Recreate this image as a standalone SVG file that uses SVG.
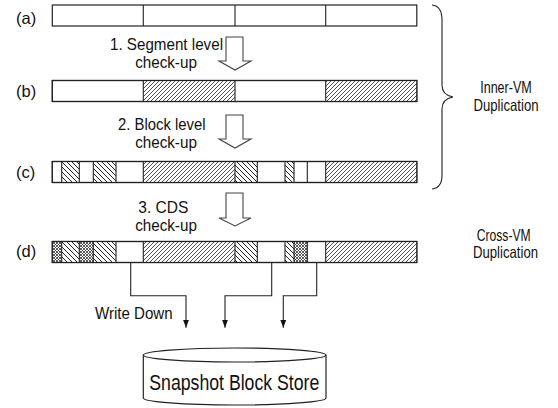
<svg xmlns="http://www.w3.org/2000/svg" width="558" height="408" viewBox="0 0 558 408">
<style>
  .t{font-family:"Liberation Sans Narrow","Liberation Sans",Arial,sans-serif;font-size:16.5px;fill:#111}
  .m{text-anchor:middle}
  .bar{fill:#fff;stroke:#222;stroke-width:1.2}
  .seg{stroke:#222;stroke-width:1.1}
  .blk{fill:#fff;stroke:#444;stroke-width:1.1}
  .ln{fill:none;stroke:#222;stroke-width:1.1}
</style>
<defs>
  <pattern id="fwd" patternUnits="userSpaceOnUse" width="4" height="4">
    <rect width="4" height="4" fill="#fff"/>
    <path d="M-1,1 L1,-1 M0,4 L4,0 M3,5 L5,3" stroke="#222" stroke-width="0.8"/>
  </pattern>
  <pattern id="bck" patternUnits="userSpaceOnUse" width="5" height="5">
    <rect width="5" height="5" fill="#fff"/>
    <path d="M-1,4 L1,6 M0,0 L5,5 M4,-1 L6,1" stroke="#222" stroke-width="1"/>
  </pattern>
  <pattern id="crs" patternUnits="userSpaceOnUse" width="3" height="3">
    <rect width="3" height="3" fill="#fff"/>
    <path d="M0,0 L3,3 M0,3 L3,0" stroke="#333" stroke-width="0.8"/>
  </pattern>
  <marker id="ah" markerUnits="userSpaceOnUse" markerWidth="8" markerHeight="6" refX="8" refY="3" orient="auto">
    <path d="M0,0 L8,3 L0,6 z" fill="#111"/>
  </marker>
</defs>

<g id="label-a"><text class="t" x="16" y="24">(a)</text></g>
<g id="label-b"><text class="t" x="16" y="97">(b)</text></g>
<g id="label-c"><text class="t" x="16" y="178">(c)</text></g>
<g id="label-d"><text class="t" x="16" y="257">(d)</text></g>

<g id="bar-a">
  <rect class="bar" x="52.3" y="5" width="364.5" height="21"/>
  <path class="seg" d="M143.3,5 V26 M235,5 V26 M325.7,5 V26"/>
</g>

<g id="bar-b">
  <rect class="bar" x="52.3" y="80.5" width="364.5" height="21"/>
  <rect x="143.3" y="80.5" width="91.7" height="21" fill="url(#fwd)"/>
  <rect x="325.7" y="80.5" width="91.1" height="21" fill="url(#fwd)"/>
  <rect x="52.3" y="80.5" width="364.5" height="21" fill="none" stroke="#222" stroke-width="1.2"/>
  <path class="seg" d="M143.3,80.5 V101.5 M235,80.5 V101.5 M325.7,80.5 V101.5"/>
</g>

<g id="bar-c">
  <rect class="bar" x="52.3" y="161.5" width="364.5" height="21"/>
  <rect x="61.7" y="161.5" width="17.6" height="21" fill="url(#bck)"/>
  <rect x="93.3" y="161.5" width="22.7" height="21" fill="url(#bck)"/>
  <rect x="143.3" y="161.5" width="91.7" height="21" fill="url(#fwd)"/>
  <rect x="235" y="161.5" width="22.3" height="21" fill="url(#bck)"/>
  <rect x="285" y="161.5" width="9" height="21" fill="url(#bck)"/>
  <rect x="325.7" y="161.5" width="91.1" height="21" fill="url(#fwd)"/>
  <rect x="52.3" y="161.5" width="364.5" height="21" fill="none" stroke="#222" stroke-width="1.2"/>
  <path class="seg" d="M61.7,161.5 V182.5 M79.3,161.5 V182.5 M93.3,161.5 V182.5 M116,161.5 V182.5 M143.3,161.5 V182.5 M235,161.5 V182.5 M257.3,161.5 V182.5 M285,161.5 V182.5 M294,161.5 V182.5 M307.3,161.5 V182.5 M325.7,161.5 V182.5"/>
</g>

<g id="bar-d">
  <rect class="bar" x="52.3" y="241.5" width="364.5" height="21"/>
  <rect x="52.3" y="241.5" width="9.4" height="21" fill="url(#crs)"/>
  <rect x="61.7" y="241.5" width="17.6" height="21" fill="url(#bck)"/>
  <rect x="79.3" y="241.5" width="14" height="21" fill="url(#crs)"/>
  <rect x="93.3" y="241.5" width="22.7" height="21" fill="url(#bck)"/>
  <rect x="143.3" y="241.5" width="91.7" height="21" fill="url(#fwd)"/>
  <rect x="235" y="241.5" width="22.3" height="21" fill="url(#bck)"/>
  <rect x="285" y="241.5" width="9" height="21" fill="url(#bck)"/>
  <rect x="294" y="241.5" width="13.3" height="21" fill="url(#crs)"/>
  <rect x="325.7" y="241.5" width="91.1" height="21" fill="url(#fwd)"/>
  <rect x="52.3" y="241.5" width="364.5" height="21" fill="none" stroke="#222" stroke-width="1.2"/>
  <path class="seg" d="M61.7,241.5 V262.5 M79.3,241.5 V262.5 M93.3,241.5 V262.5 M116,241.5 V262.5 M143.3,241.5 V262.5 M235,241.5 V262.5 M257.3,241.5 V262.5 M285,241.5 V262.5 M294,241.5 V262.5 M307.3,241.5 V262.5 M325.7,241.5 V262.5"/>
</g>

<g id="step-1">
  <polygon class="blk" points="226,37 243,37 243,61 251,61 235,70 219,61 226,61"/>
  <text class="t m" x="166.5" y="49.5" textLength="113" lengthAdjust="spacingAndGlyphs">1. Segment level</text>
  <text class="t m" x="166" y="67.5" textLength="61.7" lengthAdjust="spacingAndGlyphs">check-up</text>
</g>

<g id="step-2">
  <polygon class="blk" points="226,115 243,115 243,139 251,139 235,148 219,139 226,139"/>
  <text class="t m" x="161.8" y="130" textLength="87.5" lengthAdjust="spacingAndGlyphs">2. Block level</text>
  <text class="t m" x="166" y="147.5" textLength="61.7" lengthAdjust="spacingAndGlyphs">check-up</text>
</g>

<g id="step-3">
  <polygon class="blk" points="226,193 243,193 243,218 251,218 235,226 219,218 226,218"/>
  <text class="t m" x="163.3" y="213" textLength="50" lengthAdjust="spacingAndGlyphs">3. CDS</text>
  <text class="t m" x="166" y="230.5" textLength="61.7" lengthAdjust="spacingAndGlyphs">check-up</text>
</g>

<g id="inner-vm">
  <path class="ln" d="M432,5 Q442,6 442,20 L442,85 Q442,95 453,97 Q442,99 442,109 L442,175 Q442,188 432,189"/>
  <text class="t m" x="506" y="93" textLength="51.7" lengthAdjust="spacingAndGlyphs">Inner-VM</text>
  <text class="t m" x="506" y="110.5" textLength="65" lengthAdjust="spacingAndGlyphs">Duplication</text>
</g>

<g id="cross-vm">
  <text class="t m" x="503.7" y="240.5" textLength="54" lengthAdjust="spacingAndGlyphs">Cross-VM</text>
  <text class="t m" x="505.5" y="258" textLength="65" lengthAdjust="spacingAndGlyphs">Duplication</text>
</g>

<g id="connectors">
  <path class="ln" d="M130.7,262.5 V295.7 H186 V327.7" marker-end="url(#ah)"/>
  <path class="ln" d="M271.7,262.5 V295.7 H225 V327.7" marker-end="url(#ah)"/>
  <path class="ln" d="M316.7,262.5 V295.7 H283.3 V327.7" marker-end="url(#ah)"/>
  <text class="t m" x="133.8" y="318.5" textLength="77.7" lengthAdjust="spacingAndGlyphs">Write Down</text>
</g>

<g id="store">
  <path d="M143.3,355 V398 A91.3,7 0 0 0 326,398 V355" fill="#fff" stroke="#222" stroke-width="1.2"/>
  <ellipse cx="234.65" cy="355" rx="91.35" ry="7" fill="#fff" stroke="#222" stroke-width="1.2"/>
  <text class="t m" x="234.3" y="389.5" style="font-size:22px" textLength="170" lengthAdjust="spacingAndGlyphs">Snapshot Block Store</text>
</g>
</svg>
